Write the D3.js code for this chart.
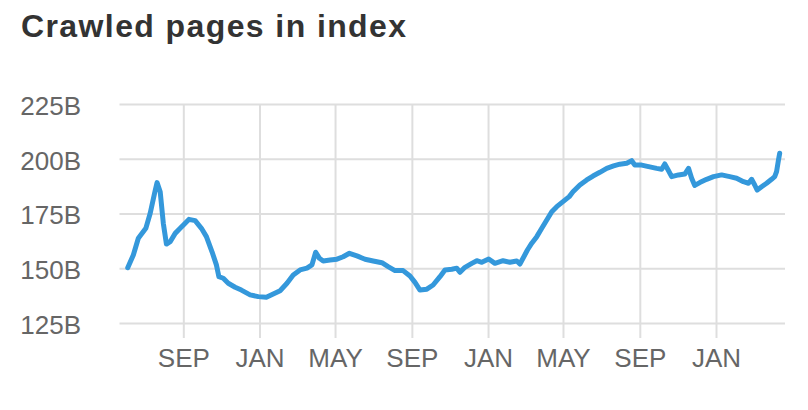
<!DOCTYPE html>
<html>
<head>
<meta charset="utf-8">
<script src="https://cdn.jsdelivr.net/npm/d3@7"></script>
<style>
  html, body { margin: 0; padding: 0; background: #fff; }
  svg { display: block; }
</style>
</head>
<body>
<svg id="chart" width="808" height="410"></svg>
<script>
const title = "Crawled pages in index";

const dates = [
  "2015-06-04","2015-06-13","2015-06-21","2015-07-03","2015-07-10","2015-07-17","2015-07-21","2015-07-26",
  "2015-07-31","2015-08-05","2015-08-11","2015-08-19","2015-08-27","2015-09-04","2015-09-10","2015-09-20",
  "2015-09-30","2015-10-08","2015-10-17","2015-10-24","2015-10-28","2015-11-04","2015-11-12","2015-11-23",
  "2015-12-03","2015-12-17","2015-12-30","2016-01-12","2016-01-23","2016-02-03","2016-02-14","2016-02-24",
  "2016-03-06","2016-03-17","2016-03-25","2016-03-31","2016-04-06","2016-04-12","2016-04-23","2016-05-04",
  "2016-05-14","2016-05-24","2016-06-05","2016-06-18","2016-07-01","2016-07-15","2016-07-25","2016-08-05",
  "2016-08-18","2016-08-29","2016-09-06","2016-09-14","2016-09-25","2016-10-05","2016-10-16","2016-10-24",
  "2016-11-04","2016-11-12","2016-11-17","2016-11-25","2016-12-06","2016-12-14","2016-12-22","2017-01-02",
  "2017-01-12","2017-01-25","2017-02-05","2017-02-16","2017-02-21","2017-02-26","2017-03-05","2017-03-12",
  "2017-03-20","2017-03-28","2017-04-05","2017-04-13","2017-04-21","2017-05-01","2017-05-11","2017-05-17",
  "2017-05-28","2017-06-08","2017-06-18","2017-06-29","2017-07-10","2017-07-21","2017-07-31","2017-08-11",
  "2017-08-19","2017-08-24","2017-09-04","2017-09-15","2017-09-28","2017-10-06","2017-10-11","2017-10-17",
  "2017-10-22","2017-11-02","2017-11-12","2017-11-18","2017-11-23","2017-11-28","2017-12-06","2017-12-17",
  "2017-12-28","2018-01-10","2018-01-23","2018-02-03","2018-02-14","2018-02-22","2018-02-27","2018-03-04",
  "2018-03-08","2018-03-15","2018-03-23","2018-03-31","2018-04-05","2018-04-08","2018-04-11","2018-04-13"
];

const pages = [
  150.2,156.0,163.7,168.2,175.1,184.2,189.1,184.9,
  170.5,161.0,162.1,165.9,168.2,170.5,172.3,171.7,
  168.2,164.4,157.5,151.5,146.1,145.4,143.1,141.3,
  140.0,137.8,137.0,136.7,138.2,139.7,143.1,146.9,
  149.2,150.0,151.5,157.3,154.5,153.3,153.7,154.1,
  155.2,156.8,155.6,154.1,153.3,152.5,150.7,148.9,
  148.9,146.4,143.5,140.0,140.4,142.3,146.1,149.2,
  149.5,150.0,148.1,150.4,152.2,153.4,152.7,154.2,
  152.2,153.4,152.7,153.3,151.9,154.5,158.3,161.4,
  164.4,168.2,172.0,175.8,178.1,180.4,182.7,184.9,
  188.0,190.3,192.1,193.8,195.6,196.7,197.5,197.9,
  199.1,197.1,197.1,196.4,195.6,195.2,197.6,194.5,
  191.8,192.6,193.0,195.6,191.1,187.8,189.1,190.6,
  191.8,192.6,191.8,191.1,189.5,188.8,190.6,188.0,
  185.7,187.2,188.8,190.6,191.8,194.1,199.4,202.5
];

const yTicks = [125, 150, 175, 200, 225];
const xTickDates = ["2015-09-01","2016-01-01","2016-05-01","2016-09-01","2017-01-01","2017-05-01","2017-09-01","2018-01-01"];
const xTickLabels = ["SEP","JAN","MAY","SEP","JAN","MAY","SEP","JAN"];

const parse = d3.utcParse("%Y-%m-%d");
const data = dates.map((d, i) => ({ date: parse(d), value: pages[i] }));

const svg = d3.select("#chart");

const x = d3.scaleUtc()
  .domain([parse("2015-09-01"), parse("2018-01-01")])
  .range([183.3, 716]);
const y = d3.scaleLinear()
  .domain([125, 225])
  .range([322.9, 104]);

const gridColor = "#dedede";
const textColor = "#666";
const fontFam = "'Liberation Sans', Arial, Helvetica, sans-serif";

// Title
svg.append("text")
  .attr("x", 21)
  .attr("y", 37)
  .attr("font-family", fontFam)
  .attr("font-weight", "bold")
  .attr("font-size", 32)
  .attr("letter-spacing", 1.4)
  .attr("fill", "#333")
  .text(title);

const plotLeft = 119.5, plotRight = 785;

// Y axis with horizontal gridlines
const yAxis = d3.axisLeft(y)
  .tickValues(yTicks)
  .tickFormat(d => d + "B")
  .tickSize(-(plotRight - plotLeft))
  .tickPadding(38.5);
const gy = svg.append("g").attr("transform", `translate(${plotLeft},0)`).call(yAxis);
gy.select(".domain").remove();
gy.selectAll(".tick line").attr("stroke", gridColor).attr("stroke-width", 2);
gy.selectAll(".tick text")
  .attr("font-family", fontFam).attr("font-size", 26).attr("fill", textColor)
  .attr("dy", "0.4em");

// X axis with vertical gridlines
const plotTop = y(225), tickBottom = 338;
const xAxis = d3.axisBottom(x)
  .tickValues(xTickDates.map(parse))
  .tickFormat((d, i) => xTickLabels[i])
  .tickSize(tickBottom - plotTop)
  .tickPadding(11);
const gx = svg.append("g").attr("transform", `translate(0,${plotTop})`).call(xAxis);
gx.select(".domain").remove();
gx.selectAll(".tick line").attr("stroke", gridColor).attr("stroke-width", 2);
gx.selectAll(".tick text")
  .attr("font-family", fontFam).attr("font-size", 26).attr("fill", textColor);

// Line
const line = d3.line()
  .x(d => x(d.date))
  .y(d => y(d.value))
  .curve(d3.curveLinear);

svg.append("path")
  .datum(data)
  .attr("fill", "none")
  .attr("stroke", "#3498db")
  .attr("stroke-width", 5)
  .attr("stroke-linejoin", "round")
  .attr("stroke-linecap", "round")
  .attr("d", line);
</script>
</body>
</html>
